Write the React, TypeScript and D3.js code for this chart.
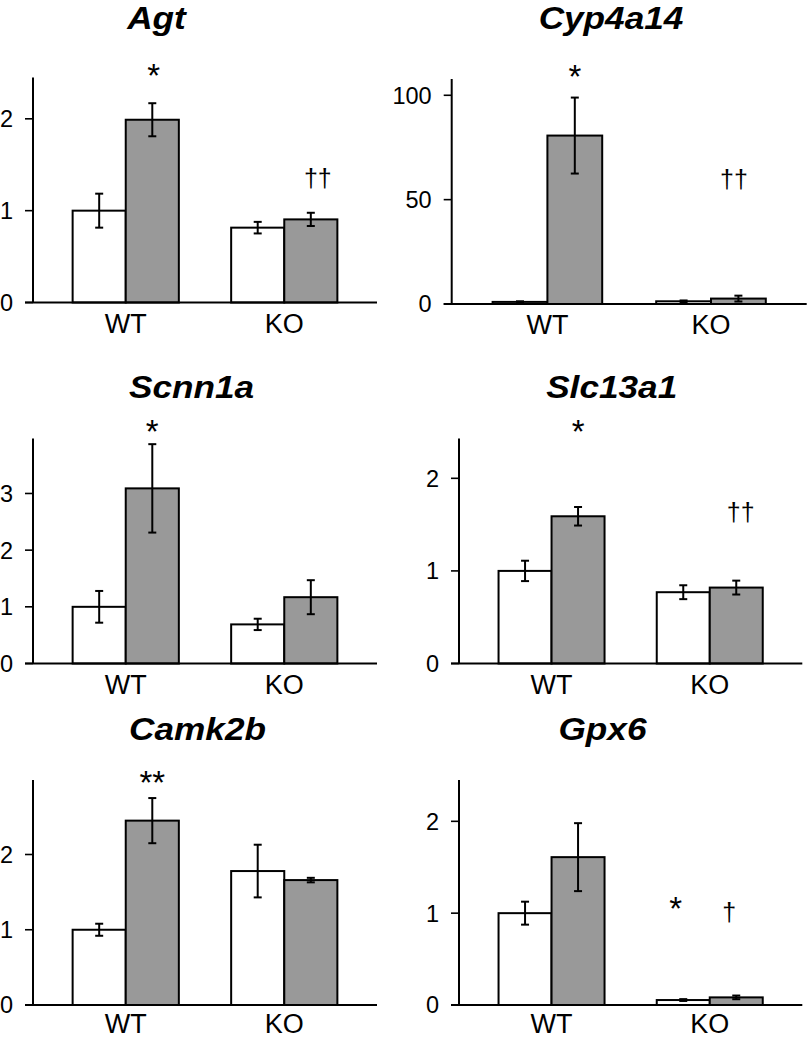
import React from "react";
import * as d3 from "d3";

// ---------- DATA ----------
const GENES = ["Agt", "Cyp4a14", "Scnn1a", "Slc13a1", "Camk2b", "Gpx6"];
const GROUPS = ["WT", "KO"];

// mean values per gene (control = white bar, treated = gray bar)
const wtControl = [1.0, 1.0, 1.0, 1.0, 1.0, 1.0];
const wtTreated = [1.99, 80.7, 3.09, 1.59, 2.45, 1.61];
const koControl = [0.815, 1.3, 0.69, 0.77, 1.78, 0.054];
const koTreated = [0.905, 2.6, 1.17, 0.82, 1.66, 0.083];

// error (± SEM)
const wtControlErr = [0.185, 0.3, 0.28, 0.11, 0.08, 0.125];
const wtTreatedErr = [0.18, 18.2, 0.78, 0.1, 0.3, 0.37];
const koControlErr = [0.063, 0.4, 0.1, 0.075, 0.35, 0.01];
const koTreatedErr = [0.072, 1.4, 0.3, 0.075, 0.03, 0.02];

// axis maxima and ticks
const yMaxes = [2.45, 107.8, 3.97, 2.43, 2.99, 2.45];
const yTicks = [[0, 1, 2], [0, 50, 100], [0, 1, 2, 3], [0, 1, 2], [0, 1, 2], [0, 1, 2]];

// significance marks: gene index, group, series (0 control, 1 treated), text, y value
const noteGene = [0, 0, 1, 1, 2, 3, 3, 4, 5, 5];
const noteGroup = ["WT", "KO", "WT", "KO", "WT", "WT", "KO", "WT", "KO", "KO"];
const noteSeries = [1, 1, 1, 1, 1, 1, 1, 1, 0, 1];
const noteText = ["*", "††", "*", "††", "*", "*", "††", "**", "*", "†"];
const noteY = [2.55, 1.33, 112.7, 59.2, 4.23, 2.58, 1.62, 3.05, 1.13, 0.99];

// ---------- LAYOUT ----------
const W = 810;
const H = 1039;
const AXIS_H = 225;
const panelLeft = [33, 451.7, 33, 459, 33, 459];
const panelRight = [377, 806.7, 377, 802.3, 377, 802.3];
const panelBase = [302.5, 304, 663.5, 663.5, 1005, 1005];
const titleX = [156.5, 611, 191.5, 611.7, 197.5, 602.5];
const titleY = [29, 29, 397.5, 398, 740, 740];
const noteDx = [1.5, 7, 0, -4.5, 0, 0, 4.5, 0, -7.5, -7];

const FONT = "'Liberation Sans', Arial, Helvetica, sans-serif";
const GRAY = "#999999";
const TITLE_FS = 32;
const TITLE_SX = 1.1;
const CAT_FS = 27;

function Panel({ i }: { i: number }) {
  const left = panelLeft[i];
  const right = panelRight[i];
  const base = panelBase[i];
  const x = d3.scalePoint<string>().domain(GROUPS).range([left, right]).padding(0.585);
  const bw = x.step() * 0.335;
  const y = d3.scaleLinear().domain([0, yMaxes[i]]).range([base, base - AXIS_H]);

  const bars = GROUPS.flatMap((g, gi) => {
    const ctrl = gi === 0 ? wtControl[i] : koControl[i];
    const trt = gi === 0 ? wtTreated[i] : koTreated[i];
    const ctrlE = gi === 0 ? wtControlErr[i] : koControlErr[i];
    const trtE = gi === 0 ? wtTreatedErr[i] : koTreatedErr[i];
    const cx = x(g)!;
    return [
      { key: g + "c", x0: cx - bw, v: ctrl, e: ctrlE, fill: "#ffffff" },
      { key: g + "t", x0: cx, v: trt, e: trtE, fill: GRAY },
    ];
  });

  const notes = noteGene
    .map((gIdx, k) => ({ gIdx, k }))
    .filter((d) => d.gIdx === i)
    .map(({ k }) => {
      const cx = x(noteGroup[k])! + (noteSeries[k] === 1 ? bw / 2 : -bw / 2) + noteDx[k];
      const isStar = noteText[k].includes("*");
      const fs = isStar ? 33 : 25;
      const shift = isStar ? 0.568 * fs : 0.285 * fs;
      return { k, cx, y: y(noteY[k]) + shift, fs, text: noteText[k] };
    });

  const catY = Math.min(base + 30, H - 0.212 * CAT_FS - 0.5);

  return (
    <g>
      <g transform={`translate(${titleX[i]},${titleY[i]}) scale(${TITLE_SX},1)`}>
        <text
          x={0}
          y={0}
          textAnchor="middle"
          fontFamily={FONT}
          fontWeight="bold"
          fontStyle="italic"
          fontSize={TITLE_FS}
          fill="#000"
        >
          {GENES[i]}
        </text>
      </g>
      {bars.map((b) => (
        <rect
          key={b.key}
          x={b.x0}
          y={y(b.v)}
          width={bw}
          height={base - y(b.v)}
          fill={b.fill}
          stroke="#000"
          strokeWidth={2}
        />
      ))}
      {bars.map((b) => {
        const cx = b.x0 + bw / 2;
        const y1 = y(b.v + b.e);
        const y2 = y(Math.max(0, b.v - b.e));
        return (
          <g key={b.key + "e"} stroke="#000" strokeWidth={2}>
            <line x1={cx} x2={cx} y1={y1} y2={y2} />
            <line x1={cx - 4} x2={cx + 4} y1={y1} y2={y1} />
            <line x1={cx - 4} x2={cx + 4} y1={y2} y2={y2} />
          </g>
        );
      })}
      {/* y axis */}
      <line x1={left} x2={left} y1={base - AXIS_H} y2={base} stroke="#000" strokeWidth={2} />
      {yTicks[i].map((t) => (
        <g key={t}>
          <line x1={left - 8} x2={left} y1={y(t)} y2={y(t)} stroke="#000" strokeWidth={1.6} />
          <text
            x={left - 20}
            y={y(t) + 0.36 * 23.5}
            textAnchor="end"
            fontFamily={FONT}
            fontSize={23.5}
            fill="#000"
          >
            {t}
          </text>
        </g>
      ))}
      {/* x axis */}
      <line x1={left - 8} x2={right} y1={base} y2={base} stroke="#000" strokeWidth={2} />
      {GROUPS.map((g) => (
        <text
          key={g}
          x={x(g)!}
          y={catY}
          textAnchor="middle"
          fontFamily={FONT}
          fontSize={CAT_FS}
          fill="#000"
        >
          {g}
        </text>
      ))}
      {notes.map((n) => (
        <text
          key={n.k}
          x={n.cx}
          y={n.y}
          textAnchor="middle"
          fontFamily={FONT}
          fontSize={n.fs}
          fill="#000"
        >
          {n.text}
        </text>
      ))}
    </g>
  );
}

export default function App() {
  return (
    <div style={{ position: "absolute", left: 0, top: 0 }}>
      <svg width={W} height={H} viewBox={`0 0 ${W} ${H}`} style={{ display: "block", background: "#fff" }}>
        <rect x={0} y={0} width={W} height={H} fill="#fff" />
        {GENES.map((_, i) => (
          <Panel key={i} i={i} />
        ))}
      </svg>
    </div>
  );
}
